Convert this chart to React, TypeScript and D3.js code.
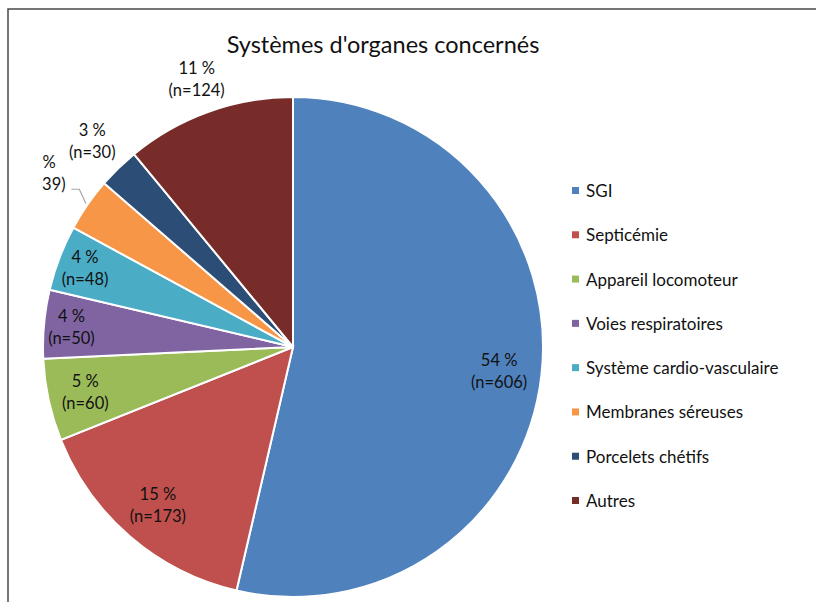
import React, { useEffect, useRef } from "react";
import * as d3 from "d3";

const categories = [
  "SGI",
  "Septicémie",
  "Appareil locomoteur",
  "Voies respiratoires",
  "Système cardio-vasculaire",
  "Membranes séreuses",
  "Porcelets chétifs",
  "Autres",
];
const counts = [606, 173, 60, 50, 48, 39, 30, 124];
const percents = [54, 15, 5, 4, 4, 3, 3, 11];
const colors = [
  "#4F81BD",
  "#C0504D",
  "#9BBB59",
  "#8064A2",
  "#4BACC6",
  "#F79646",
  "#2C4D75",
  "#772C2A",
];
const title = "Systèmes d'organes concernés";

// labels placed outside the pie (Excel "best fit")
const outsideLabels: any = {
  "Membranes séreuses": 1.22,
  "Porcelets chétifs": 1.15,
  Autres: 1.14,
};
const insideFactor: any = {
  SGI: 0.83,
  Septicémie: 0.83,
  "Appareil locomoteur": 0.85,
  "Voies respiratoires": 0.89,
  "Système cardio-vasculaire": 0.89,
};

const FONT = "Lato, 'Open Sans', sans-serif";

const App = () => {
  const svgRef: any = useRef();

  useEffect(() => {
    const svg = d3.select(svgRef.current);
    svg.selectAll("*").remove();
    const width = 816;
    const height = 602;
    svg.attr("width", width).attr("height", height);

    const cx = 293;
    const cy = 347;
    const radius = 250;

    const data = categories.map((c, i) => ({
      name: c,
      n: counts[i],
      pct: percents[i],
      color: colors[i],
    }));

    // frame
    svg
      .append("path")
      .attr("d", `M8,${height} L8,9 L${width},9`)
      .attr("fill", "none")
      .attr("stroke", "#4a4a4a")
      .attr("stroke-width", 1.5);

    svg
      .append("text")
      .attr("x", 383)
      .attr("y", 53)
      .attr("text-anchor", "middle")
      .attr("font-family", FONT)
      .attr("font-size", 23.5)
      .attr("fill", "#111")
      .text(title);

    const pie = d3
      .pie<any>()
      .value((d) => d.n)
      .sort(null);
    const arcs = pie(data);
    const arc = d3.arc<any>().innerRadius(0).outerRadius(radius);

    const g = svg.append("g").attr("transform", `translate(${cx},${cy})`);
    g.selectAll(".slice")
      .data(arcs)
      .join("path")
      .attr("class", "slice")
      .attr("d", arc)
      .attr("fill", (d) => d.data.color)
      .attr("stroke", "#fff")
      .attr("stroke-width", 2);

    // clip for labels (plot area)
    svg
      .append("clipPath")
      .attr("id", "plotClip")
      .append("rect")
      .attr("x", 41)
      .attr("y", 10)
      .attr("width", width)
      .attr("height", height);

    const labels = g
      .append("g")
      .attr("clip-path", "url(#plotClip)")
      .attr("transform", `translate(${-cx},${-cy})`);

    arcs.forEach((a) => {
      const mid = (a.startAngle + a.endAngle) / 2;
      const f = outsideLabels[a.data.name] ?? insideFactor[a.data.name] ?? 0.85;
      const r = radius * f;
      const lx = cx + Math.sin(mid) * r;
      const ly = cy - Math.cos(mid) * r;
      const t = labels
        .append("text")
        .attr("text-anchor", "middle")
        .attr("font-family", FONT)
        .attr("font-size", 16.5)
        .attr("fill", "#111");
      t.append("tspan").attr("x", lx).attr("y", ly - 5).text(`${a.data.pct} %`);
      t.append("tspan").attr("x", lx).attr("y", ly + 17).text(`(n=${a.data.n})`);

      if (a.data.name === "Membranes séreuses") {
        const ex = cx + Math.sin(mid) * (radius + 2);
        const ey = cy - Math.cos(mid) * (radius + 2);
        const sx = lx + 29;
        const sy = ly + 16;
        svg
          .append("path")
          .attr("d", `M${sx},${sy} L${sx + 8},${sy} L${ex},${ey}`)
          .attr("fill", "none")
          .attr("stroke", "#a6a6a6")
          .attr("stroke-width", 1.2);
      }
    });

    // legend
    const legendY = d3.scalePoint().domain(categories).range([191, 501]);
    const legend = svg
      .selectAll(".legend")
      .data(data)
      .join("g")
      .attr("class", "legend")
      .attr("transform", (d) => `translate(572,${legendY(d.name)})`);
    legend
      .append("rect")
      .attr("x", 0)
      .attr("y", -4)
      .attr("width", 7)
      .attr("height", 7)
      .attr("fill", (d) => d.color);
    legend
      .append("text")
      .attr("x", 14)
      .attr("y", 6)
      .attr("font-family", FONT)
      .attr("font-size", 17)
      .attr("fill", "#111")
      .text((d) => d.name);
  }, []);

  return (
    <svg
      ref={svgRef}
      style={{ position: "absolute", left: 0, top: 0, background: "#fff" }}
    ></svg>
  );
};

export default App;
